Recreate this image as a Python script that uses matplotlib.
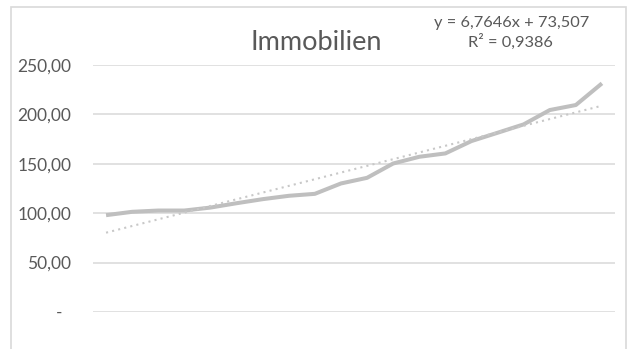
import numpy as np
import matplotlib.pyplot as plt
from matplotlib.patches import Rectangle

# Index values (Immobilien), 20 periods
perioden = np.arange(1, 21)
werte = [98.0, 101.4, 102.7, 102.7, 105.7, 110.1, 114.2, 117.6, 119.6, 130.1,
         135.8, 150.3, 157.1, 160.5, 173.0, 181.4, 189.9, 204.4, 209.5, 231.4]

# linear trendline as printed on the chart
steigung = 6.7646
achsenabschnitt = 73.507
r2 = 0.9386

y_ticks = [0, 50, 100, 150, 200, 250]
y_labels = ["-  ", "50,00", "100,00", "150,00", "200,00", "250,00"]

grau_text = "#595959"
plt.rcParams['font.family'] = ['Lato', 'DejaVu Sans']

fig = plt.figure(figsize=(6.32, 3.49), dpi=100)
ax = fig.add_axes([93/632, 1-312/349, (615-93)/632, (312-65)/349])

trend = steigung*perioden + achsenabschnitt
ax.plot(perioden, trend, color="#C8C8C8", lw=1.5, ls=(0, (1, 2)), zorder=3)
ax.plot(perioden, werte, color="#BFBFBF", lw=2.9, solid_capstyle="butt", zorder=2)

ax.set_xlim(0.5, 20.5)
ax.set_ylim(0, 250)
ax.set_yticks(y_ticks)
ax.set_yticklabels(y_labels, fontsize=12.5, color=grau_text)
ax.set_xticks([])
ax.tick_params(axis="y", length=0, pad=15.5)
ax.grid(axis="y", color="#D9D9D9", lw=1.1)
ax.set_axisbelow(True)
for s in ax.spines.values():
    s.set_visible(False)

fig.text(316/632, 1-43/349, "Immobilien", ha="center", va="center",
         fontsize=19.5, color=grau_text)

eq = "y = " + f"{steigung:.4f}".replace(".", ",") + "x + " + f"{achsenabschnitt:.3f}".replace(".", ",")
fig.text(512/632, 1-23/349, eq, ha="center", va="center", fontsize=11.8, color=grau_text)
fig.text(510/632, 1-42/349, "R² = " + f"{r2:.4f}".replace(".", ","), ha="center",
         va="center", fontsize=11.8, color=grau_text)

# chart area frame
fig.patches.append(Rectangle((11/632, -0.1), (626-11)/632, 1.1-7/349,
                             transform=fig.transFigure, fill=False,
                             edgecolor="#D9D9D9", lw=1.2))

fig.savefig("out.png", dpi=100)
